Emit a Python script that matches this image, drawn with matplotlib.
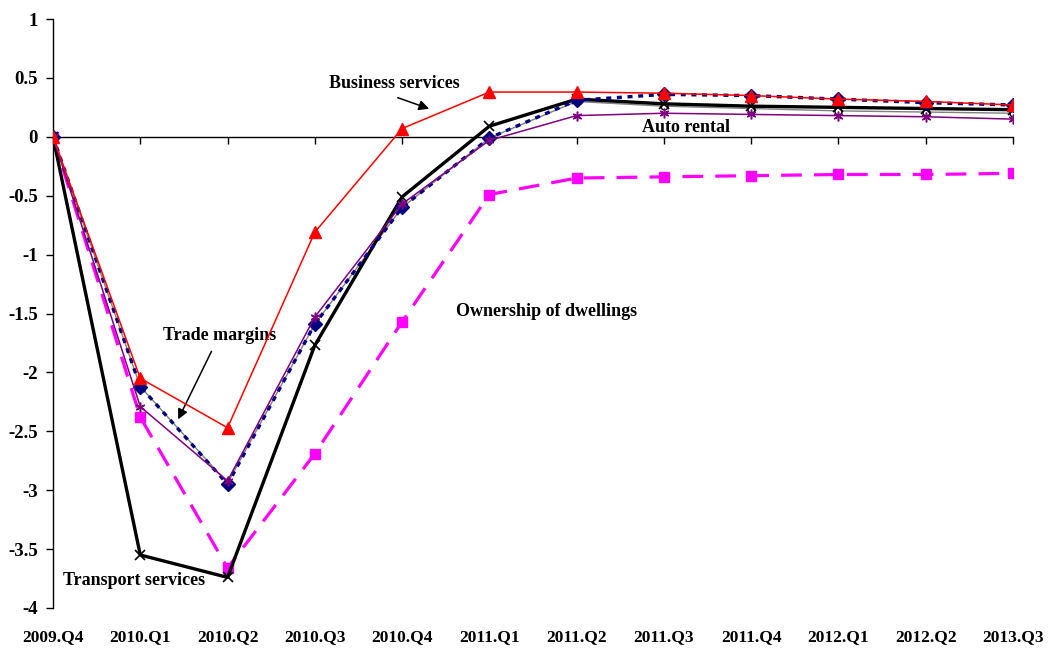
import matplotlib.pyplot as plt
from matplotlib.transforms import blended_transform_factory

quarters = ["2009.Q4", "2010.Q1", "2010.Q2", "2010.Q3", "2010.Q4", "2011.Q1",
            "2011.Q2", "2011.Q3", "2011.Q4", "2012.Q1", "2012.Q2", "2013.Q3"]

business = [0, -2.05, -2.47, -0.81, 0.07, 0.38, 0.38, 0.37, 0.35, 0.32, 0.30, 0.27]
trade = [0, -2.12, -2.95, -1.59, -0.60, -0.01, 0.31, 0.36, 0.35, 0.32, 0.29, 0.27]
transport = [0, -3.55, -3.74, -1.77, -0.51, 0.09, 0.32, 0.28, 0.26, 0.25, 0.24, 0.23]
other = [0, -2.29, -2.92, -1.53, -0.57, -0.03, 0.18, 0.20, 0.19, 0.18, 0.17, 0.15]
auto = [0, -2.12, -2.94, -1.59, -0.60, -0.01, 0.30, 0.26, 0.24, 0.22, 0.21, 0.20]
dwellings = [0, -2.38, -3.66, -2.69, -1.57, -0.49, -0.35, -0.34, -0.33, -0.32, -0.32, -0.31]

plt.rcParams['font.family'] = ['Liberation Serif', 'DejaVu Serif']
plt.rcParams['font.weight'] = 'bold'

fig = plt.figure(figsize=(10.48, 6.5), dpi=100)
ax = fig.add_axes([53 / 1048, 1 - 608 / 650, 960 / 1048, 589 / 650])
x = list(range(len(quarters)))

ax.plot(x, auto, color='#808080', lw=1, marker='o', ms=5, mfc='white', mec='black', mew=1, zorder=2)
ax.plot(x, dwellings, color='#FF00FF', lw=2.3, ls=(0, (6.5, 3.8)), marker='s', ms=7, zorder=3)
ax.plot(x, transport, color='black', lw=2.4, marker='x', ms=6.5, mew=1.2, zorder=4)
ax.plot(x, trade, color='#000080', lw=2.4, ls=(0, (1.5, 1.7)), marker='D', ms=7, zorder=5)
ax.plot(x, other, color='#800080', lw=1.1, marker=(6, 2, 0), ms=7, mew=1.1, zorder=6)
ax.plot(x, business, color='#FF0000', lw=1.1, marker='^', ms=8, zorder=7)

ax.set_xlim(0, 11)
ax.set_ylim(-4, 1)
ax.set_yticks([1, 0.5, 0, -0.5, -1, -1.5, -2, -2.5, -3, -3.5, -4])
ax.set_yticklabels(['1', '0.5', '0', '-0.5', '-1', '-1.5', '-2', '-2.5', '-3', '-3.5', '-4'])
ax.tick_params(axis='y', direction='out', length=5, width=1, labelsize=13.5, pad=6)

# horizontal axis sits on the zero line, labels along the bottom
ax.spines['bottom'].set_position(('data', 0))
ax.spines['top'].set_visible(False)
ax.spines['right'].set_visible(False)
ax.spines['left'].set_linewidth(1)
ax.spines['bottom'].set_linewidth(1)
ax.set_xticks(x)
ax.set_xticklabels([])
ax.tick_params(axis='x', direction='out', length=5, width=1)
trans = blended_transform_factory(ax.transData, ax.transAxes)
for i, q in enumerate(quarters):
    ax.text(i, -0.05, q, transform=trans, ha='center', va='center', fontsize=12.5, fontweight='bold')

tkw = dict(fontsize=13, fontweight='bold', ha='left', va='center')
arw = dict(arrowstyle='-|>', color='black', lw=1.1, mutation_scale=15)
ax.text(3.16, 0.45, 'Business services', **tkw)
ax.annotate('', xy=(4.34, 0.23), xytext=(3.92, 0.34), arrowprops=arw)
ax.text(6.75, 0.08, 'Auto rental', **tkw)
ax.text(4.62, -1.48, 'Ownership of dwellings', **tkw)
ax.text(1.26, -1.69, 'Trade margins', **tkw)
ax.annotate('', xy=(1.42, -2.42), xytext=(1.83, -1.8), arrowprops=arw)
ax.text(0.11, -3.77, 'Transport services', **tkw)

fig.savefig('out.png', dpi=100)
